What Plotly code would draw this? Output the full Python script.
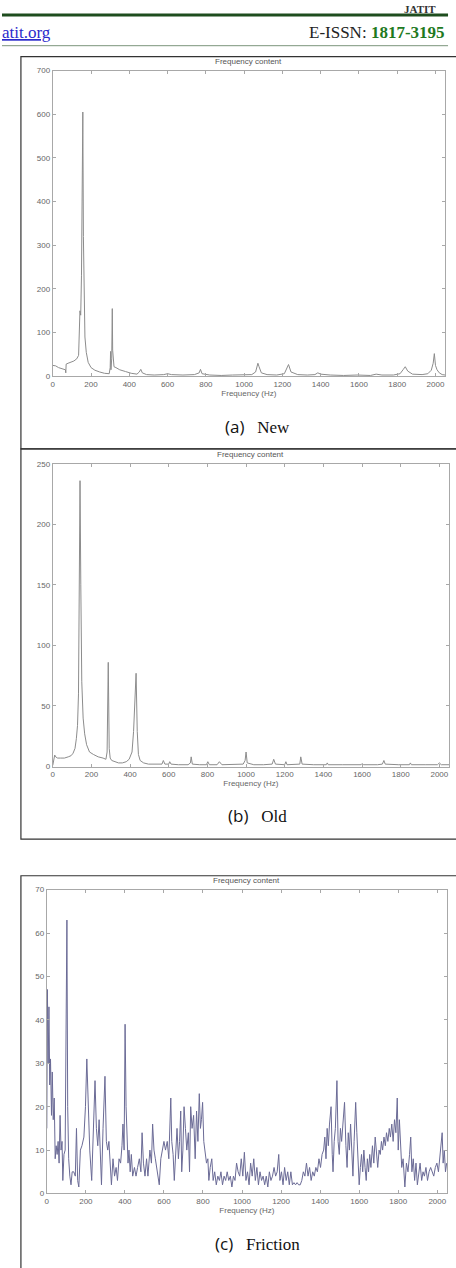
import plotly.graph_objects as go

W, H = 456, 1268

# ---------------- data ----------------
freq_new = [0, 15, 30, 50, 66, 68, 70, 80, 95, 110, 125, 135, 142, 146, 150, 154, 157, 160, 164, 168,
            175, 185, 200, 220, 245, 270, 295, 300, 302, 304, 308, 311, 313, 316, 320, 330, 350, 380, 410, 440,
            452, 460, 468, 490, 530, 580, 600, 620, 680, 740, 765, 772, 780, 820, 880, 940, 1000, 1040, 1060, 1072,
            1078, 1090, 1120, 1170, 1210, 1225, 1232, 1245, 1280, 1330, 1370, 1385, 1400, 1450, 1520, 1590, 1660, 1690, 1720, 1780,
            1815, 1832, 1842, 1855, 1880, 1930, 1960, 1978, 1988, 1994, 2000, 2008, 2020, 2035, 2050]
amp_new = [25, 24, 20, 17, 15, 8, 28, 30, 32, 35, 40, 48, 150, 140, 230, 420, 605, 320, 150, 90,
           55, 32, 20, 14, 10, 7, 6, 20, 57, 15, 40, 155, 60, 25, 22, 20, 15, 11, 7, 5,
           10, 16, 8, 4, 3, 4, 6, 4, 3, 4, 8, 16, 6, 3, 2, 3, 4, 4, 10, 30,
           22, 8, 4, 3, 6, 20, 27, 10, 4, 3, 4, 8, 5, 3, 2, 3, 2, 5, 3, 3,
           6, 16, 22, 12, 5, 4, 6, 14, 30, 52, 25, 15, 8, 4, 3]

freq_old = [0, 5, 10, 15, 25, 40, 60, 80, 95, 105, 115, 122, 128, 133, 137, 141, 145, 150, 157, 165,
            175, 190, 210, 235, 260, 275, 281, 287, 292, 297, 305, 320, 340, 360, 380, 395, 410, 418, 424, 431,
            437, 443, 452, 470, 495, 530, 565, 572, 580, 600, 605, 612, 650, 700, 712, 716, 722, 760, 795, 802,
            810, 850, 862, 875, 930, 985, 995, 1000, 1006, 1040, 1090, 1135, 1143, 1152, 1200, 1206, 1212, 1250, 1278, 1283,
            1290, 1350, 1415, 1420, 1425, 1500, 1595, 1601, 1607, 1680, 1705, 1713, 1720, 1790, 1845, 1850, 1855, 1930, 1990, 2000,
            2010, 2050]
amp_old = [1, 5, 9.5, 8, 7, 7, 7, 8, 9, 11, 15, 23, 34, 60, 150, 236, 150, 70, 40, 27,
           18, 12, 10, 8, 7, 6, 12, 86, 15, 7, 5, 4, 3, 3, 4, 6, 12, 29, 50, 77,
           29, 10, 5, 3, 2, 2, 2, 5, 2, 2, 4, 2, 1.5, 1.5, 3, 8, 2, 1.5, 1.5, 4,
           1.5, 1.5, 4, 1.5, 1.5, 2, 5, 12, 3, 1.5, 1.5, 2, 6, 2, 1.5, 4, 1.5, 1.5, 2, 8,
           2, 1.5, 1.5, 3, 1.5, 1.5, 1.5, 2.5, 1.5, 1.5, 2, 5, 2, 1.5, 1.5, 3, 1.5, 1.5, 1.5, 3,
           1.5, 1.5]

freq_fric = [0, 3, 7, 11, 15, 19, 24, 28, 33, 38,
             43, 48, 53, 58, 63, 68, 73, 78, 82, 88,
             94, 99, 103, 107, 112, 118, 124, 130, 138, 146,
             152, 158, 164, 172, 180, 190, 198, 205, 211, 220,
             230, 238, 247, 254, 261, 268, 274, 280, 288, 298,
             305, 312, 318, 325, 331, 339, 347, 355, 362, 370,
             378, 385, 390, 396, 401, 406, 411, 416, 421, 427,
             433, 440, 449, 457, 465, 474, 482, 488, 495, 503,
             511, 518, 528, 536, 542, 549, 556, 565, 576, 584,
             592, 600, 608, 617, 625, 635, 640, 647, 653, 660,
             667, 674, 680, 686, 691, 697, 703, 710, 717, 725,
             731, 737, 744, 752, 760, 767, 774, 781, 787, 792,
             798, 804, 810, 818, 825, 830, 837, 845, 852, 860,
             868, 876, 884, 892, 900, 908, 916, 924, 932, 940,
             948, 956, 964, 972, 980, 988, 996, 1004, 1012, 1020,
             1028, 1036, 1044, 1052, 1060, 1068, 1076, 1084, 1092, 1100,
             1108, 1116, 1124, 1132, 1140, 1148, 1156, 1164, 1172, 1180,
             1188, 1194, 1202, 1210, 1218, 1226, 1234, 1242, 1250, 1258,
             1266, 1274, 1282, 1290, 1298, 1306, 1314, 1322, 1330, 1338,
             1346, 1354, 1362, 1370, 1378, 1386, 1394, 1402, 1410, 1418,
             1424, 1430, 1436, 1442, 1448, 1456, 1462, 1466, 1472, 1478,
             1486, 1492, 1498, 1504, 1510, 1518, 1525, 1532, 1538, 1544,
             1550, 1556, 1562, 1568, 1574, 1582, 1588, 1594, 1600, 1606,
             1612, 1618, 1624, 1630, 1636, 1642, 1648, 1654, 1660, 1668,
             1675, 1682, 1689, 1695, 1702, 1708, 1714, 1720, 1727, 1734,
             1740, 1747, 1754, 1760, 1767, 1774, 1781, 1788, 1795, 1800,
             1806, 1812, 1818, 1825, 1834, 1842, 1850, 1858, 1864, 1870,
             1877, 1884, 1891, 1898, 1905, 1912, 1920, 1927, 1934, 1942,
             1950, 1958, 1966, 1974, 1982, 1990, 1998, 2006, 2012, 2018,
             2025, 2030, 2036, 2042, 2048]
amp_fric = [15, 47, 30, 43, 25, 31, 18, 28, 17, 22,
            8, 11, 9, 12, 7, 18, 10, 12, 3, 9,
            10, 57, 63, 20, 8, 4, 2, 5, 5, 4,
            15, 3, 1.5, 10, 11, 13, 20, 31, 20, 10,
            3, 15, 26, 15, 11, 17, 10, 2, 15, 27,
            12, 10, 12, 6, 2, 8, 4, 6, 3, 8,
            7, 11, 16, 10, 39, 20, 11, 7, 10, 5,
            9, 4, 6, 4, 6, 8, 5, 14, 7, 4,
            8, 4, 10, 7, 16, 10, 8, 5, 2, 8,
            10, 12, 10, 12, 8, 22, 12, 9, 3, 10,
            15, 8, 12, 19, 5, 10, 20, 15, 10, 14,
            5, 20, 15, 18, 8, 19, 12, 23, 15, 17,
            21, 12, 10, 7, 8, 3, 6, 8, 3, 5,
            2, 4, 3, 5, 2, 4, 3, 5, 3, 4,
            1.5, 4, 3, 7, 5, 4, 8, 4, 9.5, 3,
            5, 2, 7, 4, 8, 3, 6, 2, 5, 3,
            4, 2, 4, 1.5, 5, 3, 4, 6, 4, 5,
            9, 3, 5, 2, 6, 3, 5, 2, 5, 2,
            2.5, 2, 2.5, 2, 2, 3, 5, 4, 7, 4,
            6, 3, 5, 4, 6, 5, 8, 6, 9, 10,
            13, 8, 15, 11, 16, 20, 9, 5, 12, 15,
            26, 12, 9, 15, 12, 18, 21, 11, 6, 14,
            10, 16, 8, 4, 12, 21, 14, 8, 2, 6,
            9, 5, 10, 6, 3, 8, 5, 9, 6, 11,
            7, 13, 10, 6, 10, 9, 12, 10, 13, 11,
            14, 12, 15, 13, 16, 12, 17, 14, 22, 10,
            17, 9, 6, 8, 1.5, 7, 5, 9, 13, 5,
            8, 3, 7, 2, 5, 7, 3, 5, 4, 6,
            3, 5, 6, 5, 4, 6, 7, 5, 8, 10,
            14, 7, 10, 5, 7]

assert len(freq_new) == len(amp_new)
assert len(freq_old) == len(amp_old)
assert len(freq_fric) == len(amp_fric)

x_tickvals = [0, 200, 400, 600, 800, 1000, 1200, 1400, 1600, 1800, 2000]
captions = ["(a)", "(b)", "(c)"]
caption_names = ["New", "Old", "Friction"]
plot_title = "Frequency content"
x_title = "Frequency (Hz)"


def px(x):
    return x / W


def py(y):
    return 1 - y / H


panels = [
    dict(x0=51, x1=445, yt=67, yb=375, ymax=700, dtick=100, color="#8c8c8c",
         fx=freq_new, fy=amp_new, cap_y=426),
    dict(x0=51, x1=449, yt=463, yb=768, ymax=250, dtick=50, color="#8c8c8c",
         fx=freq_old, fy=amp_old, cap_y=817),
    dict(x0=45, x1=447, yt=892, yb=1198, ymax=70, dtick=10, color="#6b6b96",
         fx=freq_fric, fy=amp_fric, cap_y=1248),
]

fig = go.Figure()
annotations = []
shapes = []
axis_font = dict(family="Liberation Sans, Arial, sans-serif", size=8, color="#666666")

for i, p in enumerate(panels):
    n = "" if i == 0 else str(i + 1)
    fig.add_trace(go.Scatter(
        x=p["fx"], y=p["fy"], mode="lines",
        line=dict(color=p["color"], width=1),
        xaxis="x" + n, yaxis="y" + n, showlegend=False, hoverinfo="x+y"))
    common = dict(showline=True, linecolor="#a8a8a8", linewidth=1, mirror="ticks",
                  ticks="inside", ticklen=3, tickcolor="#a8a8a8", tickwidth=1,
                  showgrid=False, zeroline=False, tickfont=axis_font)
    fig.update_layout(**{
        "xaxis" + n: dict(domain=[px(p["x0"]), px(p["x1"])], range=[0, 2050],
                          tickvals=x_tickvals, anchor="y" + n,
                          title=dict(text=x_title, font=axis_font, standoff=1),
                          **common),
        "yaxis" + n: dict(domain=[py(p["yb"]), py(p["yt"])], range=[0, p["ymax"]],
                          dtick=p["dtick"], anchor="x" + n, ticklabelstandoff=0,
                          **common),
    })
    annotations.append(dict(
        x=px((p["x0"] + p["x1"]) / 2), y=py(p["yt"] - 9), xref="paper", yref="paper",
        text=plot_title, showarrow=False, font=dict(family="Liberation Sans, Arial", size=8, color="#555555"),
        xanchor="center", yanchor="middle"))
    annotations.append(dict(
        x=px(257), y=py(p["cap_y"]), xref="paper", yref="paper",
        text=(f"<span style='font-family:Open Sans, Noto Sans, sans-serif'>{captions[i]}</span>"
              f"   {caption_names[i]}"),
        showarrow=False, font=dict(family="Liberation Serif, Times New Roman, serif", size=17, color="#111111"),
        xanchor="center", yanchor="middle"))

# panel frames
for y0, y1 in [(53, 448), (448, 841), (878, 1320)]:
    shapes.append(dict(type="rect", xref="paper", yref="paper",
                       x0=px(19), x1=px(520), y0=py(y1), y1=py(y0),
                       line=dict(color="#333333", width=1.2)))

# page header
shapes.append(dict(type="line", xref="paper", yref="paper", x0=0, x1=px(448),
                   y0=py(11), y1=py(11), line=dict(color="#1e4d1e", width=3)))
shapes.append(dict(type="line", xref="paper", yref="paper", x0=0, x1=px(448),
                   y0=py(42), y1=py(42), line=dict(color="#7c947c", width=1)))
annotations.append(dict(x=px(0), y=py(29), xref="paper", yref="paper",
                        text="<u>atit.org</u>", showarrow=False, xanchor="left", yanchor="middle",
                        xshift=-2,
                        font=dict(family="Liberation Serif, Times New Roman, serif", size=17, color="#2a2acc")))
annotations.append(dict(x=px(447), y=py(29), xref="paper", yref="paper",
                        text="E-ISSN: <b><span style='color:#1f7a1f'>1817-3195</span></b>",
                        showarrow=False, xanchor="right", yanchor="middle",
                        font=dict(family="Liberation Serif, Times New Roman, serif", size=17, color="#222222")))
annotations.append(dict(x=px(420), y=py(0), xref="paper", yref="paper",
                        text="<b>JATIT</b>", showarrow=False, xanchor="center", yanchor="top",
                        yshift=3,
                        font=dict(family="Liberation Serif, Times New Roman, serif", size=11, color="#333333")))

fig.update_layout(
    width=W, height=H, margin=dict(l=0, r=0, t=0, b=0),
    paper_bgcolor="white", plot_bgcolor="white",
    annotations=annotations, shapes=shapes,
)

fig.write_html("out.html")
